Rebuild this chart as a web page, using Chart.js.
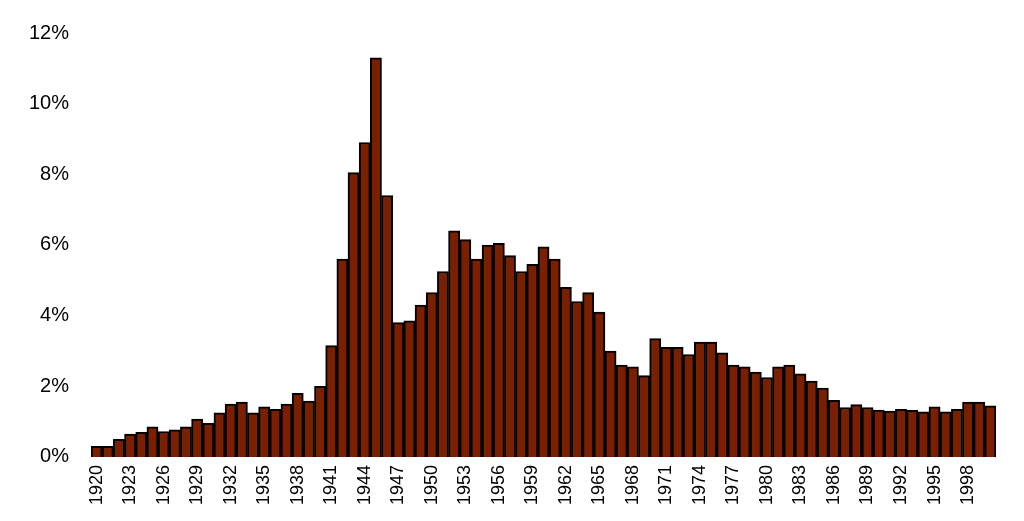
<!DOCTYPE html>
<html>
<head>
<script src="https://cdn.jsdelivr.net/npm/chart.js@4"></script>
<style>
  body { margin: 0; background: #fff; }
  #wrap { width: 1024px; height: 521px; }
</style>
</head>
<body>
<div id="wrap"><canvas id="chart"></canvas></div>
<script>
const years = [];
for (let y = 1920; y <= 2000; y++) years.push(String(y));

const shares = [
  0.3, 0.3, 0.5, 0.65, 0.7, 0.85, 0.72, 0.77, 0.85, 1.07,
  0.95, 1.25, 1.5, 1.55, 1.25, 1.42, 1.35, 1.5, 1.8, 1.58,
  2.0, 3.15, 5.6, 8.05, 8.9, 11.3, 7.4, 3.8, 3.85, 4.3,
  4.65, 5.25, 6.4, 6.15, 5.6, 6.0, 6.05, 5.7, 5.25, 5.45,
  5.95, 5.6, 4.8, 4.4, 4.65, 4.1, 3.0, 2.6, 2.55, 2.3,
  3.35, 3.1, 3.1, 2.9, 3.25, 3.25, 2.95, 2.6, 2.55, 2.4,
  2.25, 2.55, 2.6, 2.35, 2.15, 1.95, 1.6, 1.4, 1.48, 1.4,
  1.33, 1.3, 1.35, 1.32, 1.28, 1.42, 1.28, 1.35, 1.55, 1.55,
  1.45
];

new Chart(document.getElementById("chart"), {
  type: "bar",
  data: {
    labels: years,
    datasets: [{
      data: shares,
      backgroundColor: "#7a2000",
      borderColor: "#000",
      borderWidth: 2,
      barPercentage: 1.0,
      categoryPercentage: 1.0
    }]
  },
  options: {
    responsive: true,
    maintainAspectRatio: false,
    animation: false,
    layout: { padding: { top: 33, right: 28, left: 15, bottom: 14 } },
    plugins: { legend: { display: false }, tooltip: { enabled: false } },
    scales: {
      x: {
        grid: { display: false, drawTicks: true, tickLength: 6, color: "#ccc" },
        border: { display: false },
        ticks: {
          autoSkip: false,
          maxRotation: 90,
          minRotation: 90,
          padding: 2,
          color: "#000",
          font: { family: "Liberation Sans", size: 18 },
          callback: function (val, i) {
            return i % 3 === 0 ? this.getLabelForValue(val) : "";
          }
        }
      },
      y: {
        min: 0,
        max: 12,
        grid: { display: false },
        border: { display: false },
        ticks: {
          stepSize: 2,
          color: "#000",
          padding: 14,
          font: { family: "Liberation Sans", size: 20 },
          callback: v => v + "%"
        }
      }
    }
  }
});
</script>
</body>
</html>
